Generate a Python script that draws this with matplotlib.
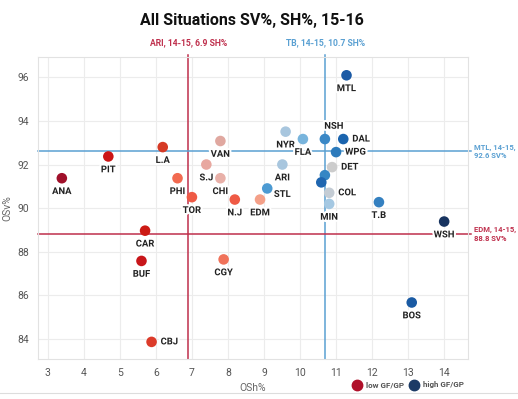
import matplotlib
matplotlib.use("Agg")
import matplotlib.pyplot as plt
import matplotlib.patheffects as pe
from matplotlib.lines import Line2D

plt.rcParams['font.family'] = ['Roboto', 'DejaVu Sans']

# ---- data ----
teams = ["ANA", "PIT", "L.A", "CAR", "BUF", "CBJ", "PHI", "TOR", "N.J", "CGY",
         "EDM", "S.J", "VAN", "CHI", "DET", "COL", "MIN", "NYR", "ARI", "FLA",
         "STL", "NSH", "WPG", "NYI", "OTT", "DAL", "MTL", "T.B", "BOS", "WSH"]
osh = [3.39, 4.68, 6.19, 5.70, 5.60, 5.88, 6.60, 7.00, 8.19, 7.88,
       8.89, 7.40, 7.79, 7.79, 10.89, 10.81, 10.81, 9.60, 9.51, 10.08,
       9.09, 10.69, 11.00, 10.69, 10.59, 11.20, 11.29, 12.19, 13.10, 14.00]
osv = [91.37, 92.37, 92.80, 88.96, 87.57, 83.85, 91.37, 90.50, 90.39, 87.64,
       90.39, 92.00, 93.08, 91.37, 91.88, 90.70, 90.19, 93.51, 92.00, 93.17,
       90.90, 93.17, 92.57, 91.51, 91.18, 93.17, 96.10, 90.27, 85.66, 89.38]
colors = ["#a0102a", "#cc1515", "#d63a25", "#cc1a14", "#c8161a", "#dc3b2a",
          "#f26a50", "#ef5a45", "#ef5a45", "#f0725a", "#f4a088", "#e8a8a0",
          "#e0a8a0", "#e8b0a8", "#cccccc", "#c4ccd4", "#a5c8e2", "#a8c6de",
          "#a8c6de", "#78b4dc", "#4c9ad2", "#3a88c6", "#2c7abb", "#3586c4",
          "#1f66b0", "#1a64ae", "#1b5aa5", "#3480c0", "#1a5aa3", "#17335f"]
# label placement: b = below, r = right, ar = above-right, br = below-right, n = none
placement = ["b", "b", "b", "b", "b", "r", "b", "b", "b", "b",
             "b", "b", "b", "b", "r", "r", "b", "b", "b", "b",
             "br", "ar", "r", "n", "n", "r", "b", "b", "b", "b"]

ref_sh = [6.9, 10.7]
ref_sh_labels = ["ARI, 14-15, 6.9 SH%", "TB, 14-15, 10.7 SH%"]
ref_sv = [92.6, 88.8]
ref_sv_labels = ["MTL, 14-15,\n92.6 SV%", "EDM, 14-15,\n88.8 SV%"]
RED = "#bf2f4c"
BLUE = "#5aa0d2"
ref_sh_colors = [RED, BLUE]
ref_sv_colors = [BLUE, RED]

xticks = [3, 4, 5, 6, 7, 8, 9, 10, 11, 12, 13, 14]
yticks = [84, 86, 88, 90, 92, 94, 96]

# ---- figure ----
W, H = 518, 399
fig = plt.figure(figsize=(W / 100, H / 100), dpi=100)
L, R, T, B = 37.7, 468.3, 57, 359.3
ax = fig.add_axes([L / W, 1 - B / H, (R - L) / W, (B - T) / H])
ax.set_xlim(2.72, 14.67)
ax.set_ylim(83.05, 96.94)

ax.set_xticks(xticks)
ax.set_yticks(yticks)
ax.grid(True, color="#ececec", linewidth=0.8, zorder=0)
ax.tick_params(length=0, labelsize=7.5, labelcolor="#555555", pad=6)
for s in ax.spines.values():
    s.set_color("#e2e2e2")
    s.set_linewidth(0.8)
ax.set_axisbelow(True)

ax.set_xlabel("OSh%", fontsize=7.5, color="#666666", labelpad=4)
ax.set_ylabel("OSv%", fontsize=7.5, color="#666666", labelpad=4)

# reference lines
for xv, lab, c in zip(ref_sh, ref_sh_labels, ref_sh_colors):
    ax.plot([xv, xv], [83.05, 97.05], color=c, lw=1.1, zorder=2, clip_on=False)
    ax.text(xv, 97.6, lab, color=c, fontsize=6.2, fontweight="bold",
            ha="center", va="center", clip_on=False)
for yv, lab, c in zip(ref_sv, ref_sv_labels, ref_sv_colors):
    ax.plot([2.72, 14.75], [yv, yv], color=c, lw=1.1, zorder=2, clip_on=False)
    ax.text(14.82, yv, lab, color=c, fontsize=5.5, fontweight="bold",
            ha="left", va="center", clip_on=False, linespacing=1.3)

# points
ax.scatter(osh, osv, s=58, c=colors, edgecolors="none", zorder=5)

halo = [pe.withStroke(linewidth=3, foreground="white")]
offsets = {"b": (0, -9.6, "center", "center"),
           "r": (6.5, 0, "left", "center"),
           "ar": (6.5, 9.2, "center", "center"),
           "br": (4.8, -4.3, "left", "center")}
for t, x, y, p in zip(teams, osh, osv, placement):
    if p == "n":
        continue
    dx, dy, ha, va = offsets[p]
    ax.annotate(t, (x, y), xytext=(dx, dy), textcoords="offset points",
                ha=ha, va=va, fontsize=6.8, fontweight="bold", color="#222222",
                path_effects=halo, zorder=4)

# title
fig.text(252 / W, 1 - 20.7 / H, "All Situations SV%, SH%, 15-16",
         ha="center", va="center", fontsize=11.5, fontweight="bold", color="#111111")

# legend
leg_items = [(356.7, "#b0102a", "low GF/GP"), (414.0, "#1c3b66", "high GF/GP")]
for xp, c, lab in leg_items:
    fig.add_artist(Line2D([xp / W], [1 - 385 / H], marker="o", markersize=7.5,
                          color=c, linestyle="none"))
    fig.text((xp + 9) / W, 1 - 385 / H, lab, ha="left", va="center",
             fontsize=5.8, fontweight="bold", color="#555555")

# card bottom border
fig.add_artist(Line2D([0, 1], [1 - 392.5 / H, 1 - 392.5 / H], color="#dddddd", lw=0.8))

fig.savefig("out.png", dpi=100)
